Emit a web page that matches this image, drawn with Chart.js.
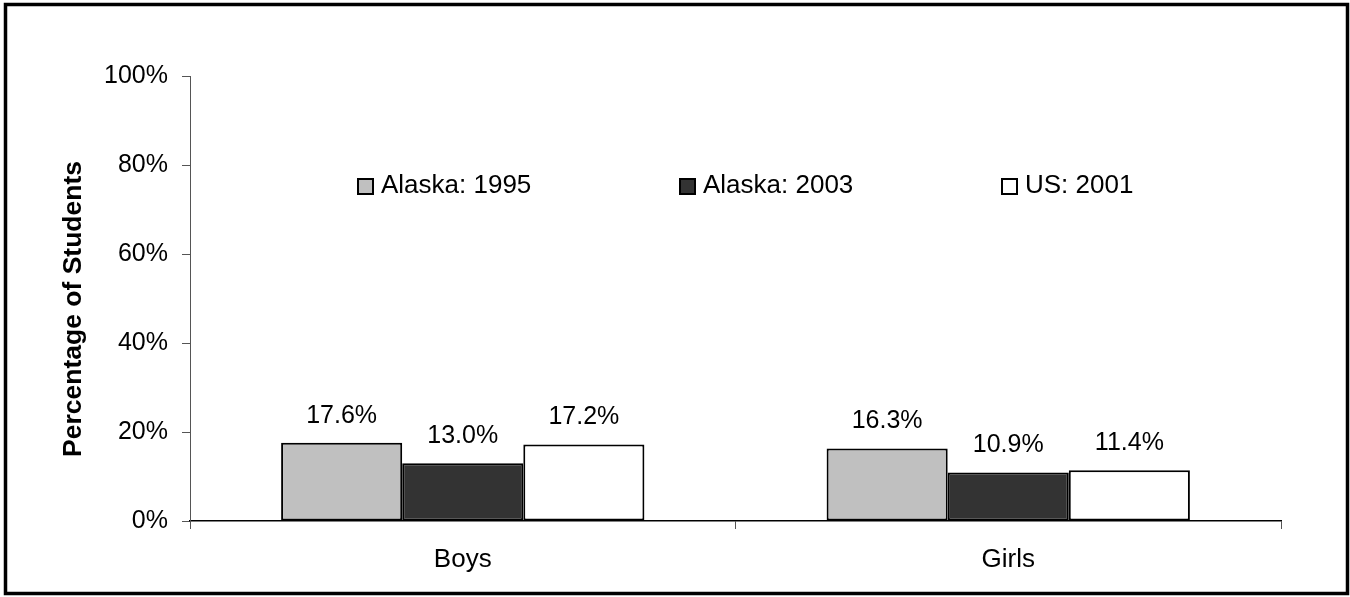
<!DOCTYPE html>
<html>
<head>
<meta charset="utf-8">
<script src="https://cdn.jsdelivr.net/npm/chart.js@4"></script>
<style>
  html, body { margin: 0; padding: 0; background: #fff; }
  #wrap { width: 1350px; height: 597px; position: relative; }
</style>
</head>
<body>
<div id="wrap"><canvas id="c" width="1350" height="597"></canvas></div>
<script>
const categories = ['Boys', 'Girls'];
const seriesNames = ['Alaska: 1995', 'Alaska: 2003', 'US: 2001'];
const alaska1995 = [17.6, 16.3];
const alaska2003 = [13.0, 10.9];
const us2001 = [17.2, 11.4];
const yTicks = [0, 20, 40, 60, 80, 100];
const yTitle = 'Percentage of Students';
const colors = ['#C0C0C0', '#333333', '#FFFFFF'];

const FONT = '"Liberation Sans", Arial, sans-serif';

const framePlugin = {
  id: 'extras',
  afterDraw(chart) {
    const ctx = chart.ctx;
    ctx.save();
    // outer frame
    ctx.strokeStyle = '#000';
    ctx.lineWidth = 3.5;
    ctx.strokeRect(5.5, 4.5, 1342, 589);
    // y title
    ctx.fillStyle = '#000';
    ctx.font = 'bold 26.5px ' + FONT;
    ctx.textAlign = 'center';
    ctx.textBaseline = 'middle';
    ctx.translate(74, 309);
    ctx.rotate(-Math.PI / 2);
    ctx.fillText(yTitle, 0, 0);
    ctx.restore();

    // data labels
    ctx.save();
    ctx.font = '25px ' + FONT;
    ctx.fillStyle = '#000';
    ctx.textAlign = 'center';
    ctx.textBaseline = 'alphabetic';
    chart.data.datasets.forEach((ds, i) => {
      const meta = chart.getDatasetMeta(i);
      meta.data.forEach((bar, j) => {
        ctx.fillText(ds.data[j].toFixed(1) + '%', bar.x, bar.y - 20);
      });
    });
    ctx.restore();

    // legend
    ctx.save();
    const legX = [357, 679, 1001];
    const legY = 178;
    ctx.font = '26px ' + FONT;
    ctx.textAlign = 'left';
    ctx.textBaseline = 'alphabetic';
    chart.data.datasets.forEach((ds, i) => {
      ctx.fillStyle = ds.backgroundColor;
      ctx.fillRect(legX[i], legY, 16, 16);
      ctx.strokeStyle = '#000';
      ctx.lineWidth = 2;
      ctx.strokeRect(legX[i] + 1, legY + 1, 15, 15);
      ctx.fillStyle = '#000';
      ctx.fillText(ds.label, legX[i] + 24, legY + 15);
    });
    ctx.restore();
  }
};

new Chart(document.getElementById('c'), {
  type: 'bar',
  data: {
    labels: categories,
    datasets: [alaska1995, alaska2003, us2001].map((d, i) => ({
      label: seriesNames[i],
      data: d,
      backgroundColor: colors[i],
      borderColor: '#000',
      borderWidth: 2,
      borderSkipped: false,
      categoryPercentage: 0.666,
      barPercentage: 1.0
    }))
  },
  options: {
    responsive: false,
    animation: false,
    layout: { padding: { top: 76, right: 69, left: 0, bottom: 0 } },
    plugins: { legend: { display: false }, tooltip: { enabled: false } },
    scales: {
      x: {
        afterFit(s) { s.height = 76; },
        grid: { offset: true, drawOnChartArea: false, drawTicks: true, tickLength: 8, color: '#555', lineWidth: 1 },
        border: { display: true, color: '#000', width: 1.5 },
        ticks: { color: '#000', font: { family: FONT, size: 26 }, padding: 15 }
      },
      y: {
        min: 0,
        max: 100,
        afterFit(s) { s.width = 190; },
        afterBuildTicks(s) { s.ticks = yTicks.map(v => ({ value: v })); },
        grid: { drawOnChartArea: false, drawTicks: true, tickLength: 8, color: '#555', lineWidth: 1 },
        border: { display: true, color: '#555', width: 1 },
        ticks: { color: '#000', font: { family: FONT, size: 25 }, padding: 14, callback: v => v + '%' }
      }
    }
  },
  plugins: [framePlugin]
});
</script>
</body>
</html>
